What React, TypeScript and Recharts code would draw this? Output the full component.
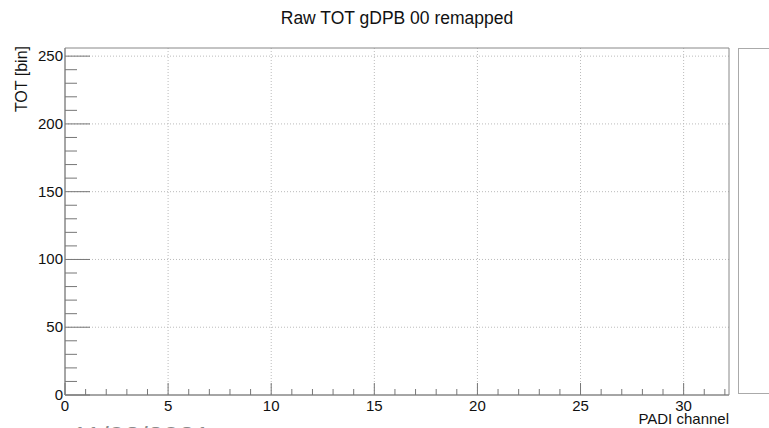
import { ScatterChart, Scatter, XAxis, YAxis, CartesianGrid, ReferenceArea } from 'recharts'

// Raw TOT histogram for gDPB 00 - nothing filled yet, so no hits
const hits: { channel: number; tot: number }[] = []

const channelTicks = [0, 1, 2, 3, 4, 5, 6, 7, 8, 9, 10, 11, 12, 13, 14, 15, 16, 17, 18, 19, 20, 21, 22, 23, 24, 25, 26, 27, 28, 29, 30, 31, 32]
const channelLabels = [0, 5, 10, 15, 20, 25, 30]
const channelGrid = [5, 10, 15, 20, 25, 30]
const totTicks = [0, 10, 20, 30, 40, 50, 60, 70, 80, 90, 100, 110, 120, 130, 140, 150, 160, 170, 180, 190, 200, 210, 220, 230, 240, 250]
const totLabels = [0, 50, 100, 150, 200, 250]
const totGrid = [50, 100, 150, 200, 250]

const FONT = '"Liberation Sans", Arial, sans-serif'

const XTick = (props: any) => {
  const { x, y, payload } = props
  const major = channelLabels.includes(payload.value)
  return (
    <g>
      <line x1={x} x2={x} y1={y} y2={y - (major ? 12 : 6)} stroke="#777" />
      {major && (
        <text x={x} y={y + 16} textAnchor="middle" fontSize={15} fill="#111" fontFamily={FONT}>
          {payload.value}
        </text>
      )}
    </g>
  )
}

const YTick = (props: any) => {
  const { x, y, payload } = props
  const major = totLabels.includes(payload.value)
  return (
    <g>
      <line x1={x} x2={x + (major ? 25 : 12)} y1={y} y2={y} stroke="#777" />
      {major && (
        <text x={x - 2} y={y + 5} textAnchor="end" fontSize={15} fill="#111" fontFamily={FONT}>
          {payload.value}
        </text>
      )}
    </g>
  )
}

export default function App() {
  return (
    <div style={{ position: 'absolute', left: 0, top: 0, width: 769, height: 428, overflow: 'hidden', background: '#fff', fontFamily: FONT }}>
      <div style={{ position: 'absolute', left: 65, width: 664, top: 8, textAlign: 'center', fontSize: 17.5, color: '#111' }}>
        Raw TOT gDPB 00 remapped
      </div>
      <ScatterChart width={769} height={428} margin={{ top: 48, right: 40, bottom: 0, left: 0 }}>
        <CartesianGrid
          stroke="#bbb"
          strokeDasharray="1 2"
          verticalValues={channelGrid}
          horizontalValues={totGrid}
        />
        <XAxis
          type="number"
          dataKey="channel"
          domain={[0, 32.2]}
          ticks={channelTicks}
          interval={0}
          height={33}
          tickSize={0}
          tickMargin={0}
          axisLine={{ stroke: '#888' }}
          tick={<XTick />}
          allowDataOverflow
          label={(p: any) => {
            const vb = p.viewBox
            return (
              <text x={vb.x + vb.width} y={vb.y + 29} textAnchor="end" fontSize={15} fill="#111" fontFamily={FONT}>
                PADI channel
              </text>
            )
          }}
        />
        <YAxis
          type="number"
          dataKey="tot"
          domain={[0, 256]}
          ticks={totTicks}
          interval={0}
          width={65}
          tickSize={0}
          tickMargin={0}
          axisLine={{ stroke: '#888' }}
          tick={<YTick />}
          allowDataOverflow
          label={(p: any) => {
            const vb = p.viewBox
            const tx = vb.x + 27
            const ty = vb.y - 2
            return (
              <text x={tx} y={ty} transform={`rotate(-90 ${tx} ${ty})`} textAnchor="end" fontSize={16} fill="#111" fontFamily={FONT}>
                TOT [bin]
              </text>
            )
          }}
        />
        <ReferenceArea x1={0} x2={32.2} y1={0} y2={256} fill="none" stroke="#888" strokeWidth={1} />
        <Scatter data={hits} fill="#000" isAnimationActive={false} />
      </ScatterChart>
      <div style={{ position: 'absolute', left: 72, top: 421, fontSize: 28, color: '#8a8a8a', whiteSpace: 'nowrap' }}>
        11/02/2021
      </div>
      <div style={{ position: 'absolute', left: 738, top: 48, width: 60, height: 346, border: '1px solid #aaa', boxSizing: 'border-box' }} />
    </div>
  )
}
